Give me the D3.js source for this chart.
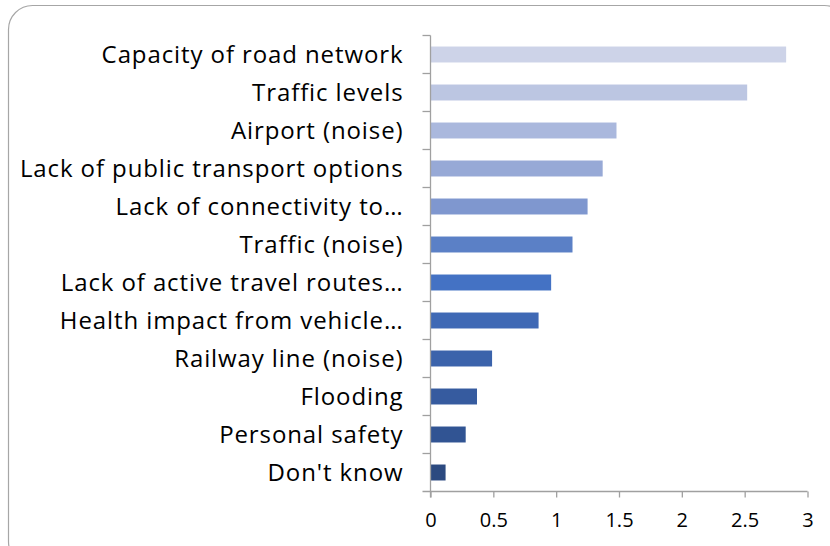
<!DOCTYPE html>
<html>
<head>
<meta charset="utf-8">
<script src="https://cdn.jsdelivr.net/npm/d3@7"></script>
<style>
  body { margin: 0; background: #fff; }
  svg text { font-family: "Open Sans", "Noto Sans", sans-serif; fill: #000; }
</style>
</head>
<body>
<div id="chart"></div>
<script>
var svgWidth = 830;
var svgHeight = 546;

// data
var categories = [
  "Capacity of road network",
  "Traffic levels",
  "Airport (noise)",
  "Lack of public transport options",
  "Lack of connectivity to\u2026",
  "Traffic (noise)",
  "Lack of active travel routes\u2026",
  "Health impact from vehicle\u2026",
  "Railway line (noise)",
  "Flooding",
  "Personal safety",
  "Don't know"
];
var values = [2.83, 2.52, 1.48, 1.37, 1.25, 1.13, 0.96, 0.86, 0.49, 0.37, 0.28, 0.12];
var barColors = ["#cdd3e8", "#bcc6e2", "#aab8dd", "#97a9d6", "#7f97cf", "#5b80c6",
                 "#4472c4", "#3f69b5", "#3b63ab", "#365b9f", "#315493", "#2c4a80"];
var xTicks = [0, 0.5, 1, 1.5, 2, 2.5, 3];

var margin = { top: 35.5, right: 22.5, bottom: 54.5, left: 430.5 };
var width = svgWidth - margin.left - margin.right;
var height = svgHeight - margin.top - margin.bottom;

var svg = d3.select("#chart")
  .append("svg")
  .attr("width", svgWidth)
  .attr("height", svgHeight);

// chart frame (rounded, runs off the right and bottom)
svg.append("rect")
  .attr("x", 8.5)
  .attr("y", 5.5)
  .attr("width", 840)
  .attr("height", 560)
  .attr("rx", 24)
  .attr("fill", "none")
  .attr("stroke", "#a6a6a6")
  .attr("stroke-width", 1.2);

var chartGroup = svg.append("g")
  .attr("transform", `translate(${margin.left}, ${margin.top})`);

var xScale = d3.scaleLinear().domain([0, 3]).range([0, width]);
var yScale = d3.scaleBand().domain(categories).range([0, height]).paddingInner(0.58).paddingOuter(0.29);
var yTickScale = d3.scaleLinear().domain([0, categories.length]).range([0, height]);

// bars
chartGroup.selectAll(".bar")
  .data(values)
  .enter()
  .append("rect")
  .attr("class", "bar")
  .attr("x", 0)
  .attr("y", (d, i) => yScale(categories[i]))
  .attr("height", yScale.bandwidth())
  .attr("width", d => xScale(d))
  .attr("fill", (d, i) => barColors[i]);

// x axis
var bottomAxis = d3.axisBottom(xScale).tickValues(xTicks).tickSize(6).tickPadding(15)
  .tickFormat(d3.format("~g"));
var xAxis = chartGroup.append("g")
  .attr("transform", `translate(0, ${height})`)
  .call(bottomAxis)
  .attr("font-size", 20)
  .attr("font-family", null);
xAxis.select(".domain").attr("d", `M-8,0H${width}`);
xAxis.selectAll("line, path").attr("stroke", "#a0a0a0").attr("stroke-width", 1.3);
xAxis.selectAll("text").attr("fill", "#000");

// y axis: line plus ticks on the boundaries between categories
var yAxis = chartGroup.append("g");
yAxis.append("line")
  .attr("x1", 0).attr("x2", 0)
  .attr("y1", 0).attr("y2", height + 6)
  .attr("stroke", "#a0a0a0").attr("stroke-width", 1.3);
yAxis.selectAll(".ytick")
  .data(d3.range(categories.length))
  .enter()
  .append("line")
  .attr("x1", -8).attr("x2", 0)
  .attr("y1", d => yTickScale(d)).attr("y2", d => yTickScale(d))
  .attr("stroke", "#a0a0a0").attr("stroke-width", 1.3);

// category labels
chartGroup.selectAll(".catLabel")
  .data(categories)
  .enter()
  .append("text")
  .attr("class", "catLabel")
  .attr("x", -27)
  .attr("y", d => yScale(d) + yScale.bandwidth() / 2)
  .attr("dy", "0.35em")
  .attr("text-anchor", "end")
  .style("font-size", "24px")
  .style("letter-spacing", "0.9px")
  .text(d => d);
</script>
</body>
</html>
